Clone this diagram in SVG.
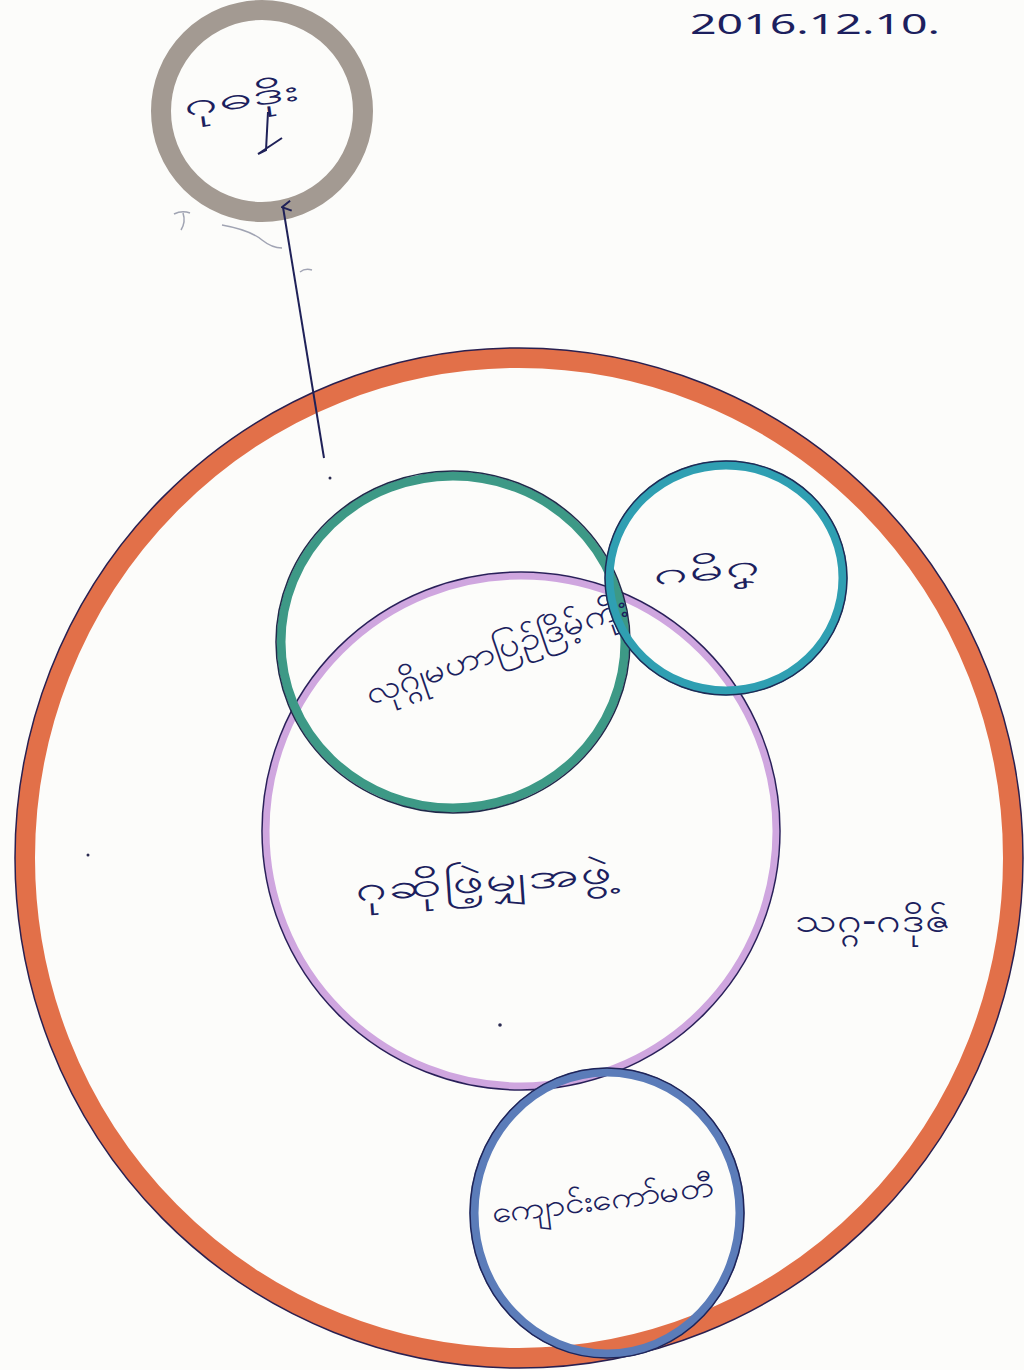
<svg xmlns="http://www.w3.org/2000/svg" width="1024" height="1370" viewBox="0 0 1024 1370">
<style>
.ink{fill:#1c1f5e;font-family:"Noto Sans","DejaVu Sans",sans-serif}
.line{fill:none;stroke:#1f2158;stroke-width:2}
</style>
<defs>
<marker id="ah" markerWidth="12" markerHeight="12" refX="6" refY="2" orient="auto" markerUnits="userSpaceOnUse">
<path d="M1,10 L6,1 L11,10" fill="none" stroke="#1f2158" stroke-width="2"/>
</marker>
</defs>
<rect width="1024" height="1370" fill="#fcfcfa"/>
<text class="ink" x="690" y="34" font-size="28" textLength="250" lengthAdjust="spacingAndGlyphs">2016.12.10.</text>

<g id="node-top">
<circle cx="262" cy="111" r="101" fill="none" stroke="#a39a92" stroke-width="20"/>
<text class="ink" x="183" y="108" font-size="30" textLength="115" lengthAdjust="spacingAndGlyphs" transform="rotate(-8 240 98)">ဂုဓဒိုး</text>
<path d="M268,112 L266,150 L258,154 M258,154 L282,138" class="line"/>
</g>

<g id="node-outer">
<ellipse cx="519" cy="858" rx="494" ry="500" fill="none" stroke="#e27049" stroke-width="20"/>
<ellipse cx="519" cy="858" rx="504" ry="510" fill="none" stroke="#2a2050" stroke-width="1.5"/>
<text class="ink" x="795" y="932" font-size="34" textLength="155" lengthAdjust="spacingAndGlyphs">သဂ္ဂ-ဂဒိုဇ်</text>
</g>

<g id="node-purple">
<circle cx="521" cy="831" r="255" fill="none" stroke="#cfa6df" stroke-width="7"/>
<circle cx="521" cy="831" r="259" fill="none" stroke="#2a1f5a" stroke-width="1.5"/>
<text class="ink" x="355" y="892" font-size="34" textLength="258" lengthAdjust="spacingAndGlyphs" transform="rotate(-4 483 878)">ဂုဆိုဖြဲ့မျှအဖွဲ့</text>
</g>

<g id="node-green">
<ellipse cx="453" cy="642" rx="172" ry="166" fill="none" stroke="#3d9986" stroke-width="9"/>
<ellipse cx="453" cy="642" rx="177" ry="171" fill="none" stroke="#1f2a4a" stroke-width="1.5"/>
<text class="ink" x="358" y="662" font-size="32" textLength="275" lengthAdjust="spacingAndGlyphs" transform="rotate(-19 492 648)">လုဂ္ဂိုမဟာပြဉ်ဒြိမ့်ကိုး</text>
</g>

<g id="node-teal">
<ellipse cx="726" cy="578" rx="117" ry="113" fill="none" stroke="#2f9fb2" stroke-width="9"/>
<ellipse cx="726" cy="578" rx="121" ry="117" fill="none" stroke="#1f2a55" stroke-width="1.5"/>
<text class="ink" x="652" y="580" font-size="30" textLength="110" lengthAdjust="spacingAndGlyphs" transform="rotate(-6 705 568)">ဂမိဂၞ</text>
</g>

<g id="node-blue">
<ellipse cx="607" cy="1213" rx="133" ry="141" fill="none" stroke="#5b7cb9" stroke-width="9"/>
<ellipse cx="607" cy="1213" rx="137" ry="145" fill="none" stroke="#1f2458" stroke-width="1.5"/>
<text class="ink" x="490" y="1210" font-size="30" textLength="225" lengthAdjust="spacingAndGlyphs" transform="rotate(-7 600 1195)">ကျောင်းကော်မတီ</text>
</g>

<g id="connectors">
<line x1="324" y1="458" x2="283" y2="207" class="line" marker-end="url(#ah)"/>
</g>

<g id="marks" fill="none" stroke="#7a7f95" stroke-width="1.5" opacity="0.7">
<path d="M174,214 Q182,210 190,213 M183,213 Q186,222 181,230"/>
<path d="M222,225 Q250,230 262,240 Q272,248 282,248"/>
<path d="M300,272 Q305,268 312,270"/>
</g>
<g fill="#2a2a50">
<circle cx="330" cy="478" r="1.5"/>
<circle cx="500" cy="1025" r="1.8"/>
<circle cx="88" cy="855" r="1.5"/>
</g>
</svg>
